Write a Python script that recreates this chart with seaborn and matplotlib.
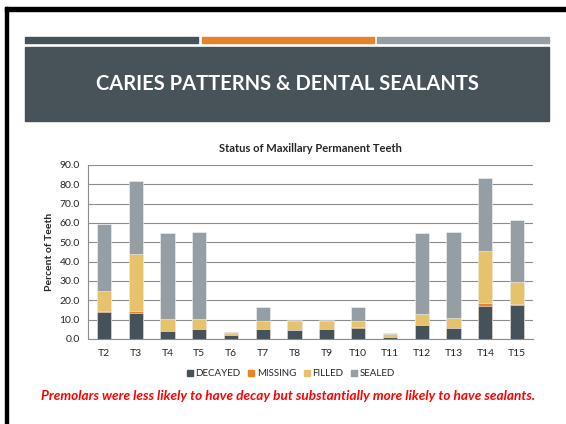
import pandas as pd
import numpy as np
import matplotlib.pyplot as plt
import seaborn as sns
from matplotlib.patches import Rectangle
from matplotlib.lines import Line2D

# Data
teeth = ["T2", "T3", "T4", "T5", "T6", "T7", "T8", "T9", "T10", "T11", "T12", "T13", "T14", "T15"]
decayed = [14.0, 13.3, 4.3, 5.0, 1.9, 5.0, 4.6, 5.2, 5.5, 1.2, 7.1, 5.5, 16.9, 17.6]
missing = [0.6, 1.3, 0.0, 0.0, 0.0, 0.0, 0.0, 0.0, 0.5, 0.0, 0.0, 0.0, 1.7, 0.3]
filled = [10.4, 29.6, 5.9, 5.2, 1.0, 4.5, 4.7, 4.1, 3.5, 1.4, 5.6, 5.5, 26.7, 11.4]
sealed = [34.5, 37.6, 44.7, 45.0, 0.5, 6.9, 0.3, 0.3, 6.9, 0.7, 42.0, 44.2, 38.0, 32.1]

series = ["DECAYED", "MISSING", "FILLED", "SEALED"]
colors = ["#46525a", "#e8832a", "#e6c36a", "#959da5"]

title = "CARIES PATTERNS & DENTAL SEALANTS"
chart_title = "Status of Maxillary Permanent Teeth"
caption = "Premolars were less likely to have decay but substantially more likely to have sealants."

df = pd.DataFrame({"tooth": teeth, "DECAYED": decayed, "MISSING": missing,
                   "FILLED": filled, "SEALED": sealed})

# cumulative tops for layered stacking
df["c_decayed"] = df["DECAYED"]
df["c_missing"] = df["c_decayed"] + df["MISSING"]
df["c_filled"] = df["c_missing"] + df["FILLED"]
df["c_sealed"] = df["c_filled"] + df["SEALED"]

sns.set_style("white")
plt.rcParams["font.family"] = ["Lato", "DejaVu Sans"]

W, H = 566, 424
fig = plt.figure(figsize=(W / 100, H / 100), dpi=100)
fig.set_facecolor("white")

def px(x0, y0, x1, y1, color):
    fig.patches.append(Rectangle((x0 / W, 1 - y1 / H), (x1 - x0) / W, (y1 - y0) / H,
                                 transform=fig.transFigure, color=color, zorder=0))

# slide frame
px(5, 7, 566, 11, "black")
px(5, 7, 8, 424, "black")
# header bars
px(25, 37, 198, 43, "#46525a")
px(202, 37, 374, 43, "#e8832a")
px(377, 37, 549, 43, "#959da5")
px(25, 47, 549, 121, "#475359")
fig.text(287 / W, 1 - 84 / H, title, color="white", fontsize=14.5, fontweight="bold",
         ha="center", va="center")

# chart
ax = fig.add_axes([88 / W, 1 - 339 / H, (533 - 88) / W, (339 - 165) / H])
layers = ["c_sealed", "c_filled", "c_missing", "c_decayed"]
layer_colors = colors[::-1]
for col, c in zip(layers, layer_colors):
    sns.barplot(data=df, x="tooth", y=col, color=c, width=0.45, ax=ax,
                edgecolor="#f4f4f4", linewidth=0.4, saturation=1)

ax.set_ylim(0, 90)
ax.set_xlim(-0.5, len(teeth) - 0.5)
ax.set_yticks(np.arange(0, 91, 10))
ax.set_yticklabels([f"{v:.1f}" for v in np.arange(0, 91, 10)], fontsize=7.5)
ax.set_xticks(range(len(teeth)))
ax.set_xticklabels(teeth, fontsize=7.5)
ax.set_xticks(np.arange(-0.5, len(teeth), 1), minor=True)
ax.tick_params(axis="x", which="major", length=0, pad=7)
ax.tick_params(axis="x", which="minor", length=4, color="#8c8c8c", width=0.8)
ax.tick_params(axis="y", length=0, pad=6)
ax.yaxis.grid(True, color="#8c8c8c", linewidth=0.8)
ax.set_axisbelow(True)
for s in ["top", "right"]:
    ax.spines[s].set_visible(False)
for s in ["left", "bottom"]:
    ax.spines[s].set_color("#8c8c8c")
    ax.spines[s].set_linewidth(0.8)
ax.set_xlabel("")
ax.set_ylabel("Percent of Teeth", fontsize=7.5, fontweight="bold", labelpad=4)
ax.set_title(chart_title, fontsize=8, fontweight="bold", pad=9)

handles = [Line2D([], [], marker="s", linestyle="", markersize=5, color=c) for c in colors]
fig.legend(handles, series, loc="center", bbox_to_anchor=(290 / W, 1 - 374 / H), ncol=4,
           frameon=False, fontsize=7, handletextpad=0.05, columnspacing=0.6,
           handlelength=1.0)

fig.text(288 / W, 1 - 396 / H, caption, color="#ff0000", fontsize=9.8, fontweight="bold",
         fontstyle="italic", ha="center", va="center")

fig.savefig("out.png", dpi=100, facecolor="white")
